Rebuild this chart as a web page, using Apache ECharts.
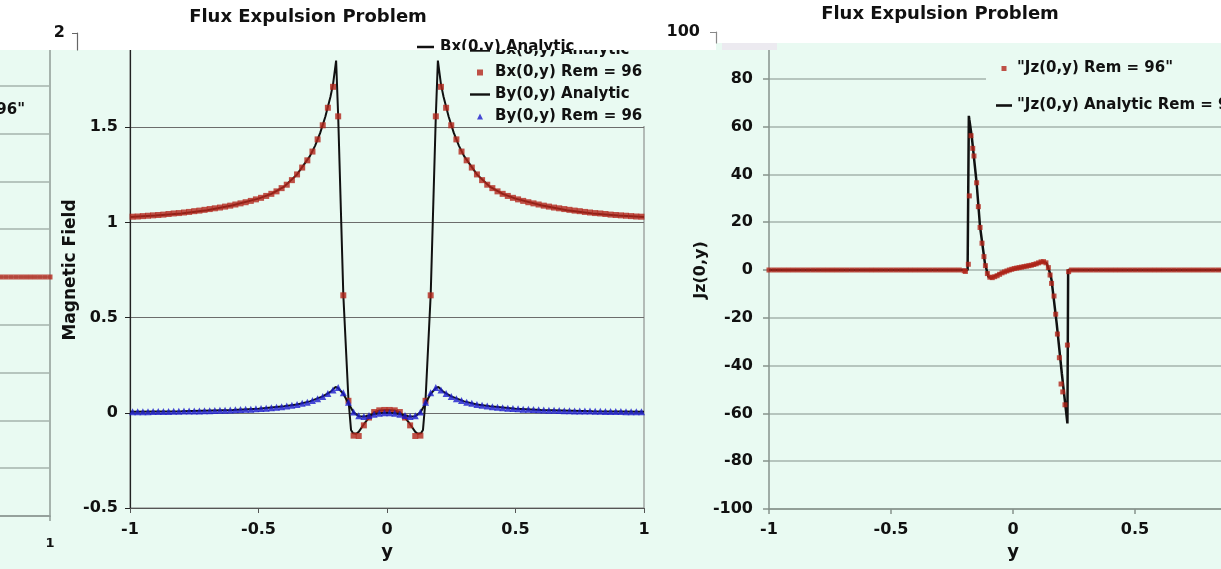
<!DOCTYPE html>
<html><head><meta charset="utf-8">
<script src="https://cdn.jsdelivr.net/npm/echarts@6/dist/echarts.min.js"></script>
<style>html,body{margin:0;padding:0;background:#fff}#c{width:1221px;height:569px}</style>
</head><body><div id="c"></div>
<script>
const titleText = 'Flux Expulsion Problem';
const bxAnaName = 'Bx(0,y) Analytic';
const bxRemName = 'Bx(0,y) Rem = 96';
const byAnaName = 'By(0,y) Analytic';
const byRemName = 'By(0,y) Rem = 96';
const jzRemName = '"Jz(0,y) Rem = 96"';
const jzAnaName = '"Jz(0,y) Analytic Rem = 96"';

// measured sample positions (left chart)
const remY = [-0.99,-0.97,-0.95,-0.93,-0.91,-0.89,-0.87,-0.85,-0.83,-0.81,
 -0.79,-0.77,-0.75,-0.73,-0.71,-0.69,-0.67,-0.65,-0.63,-0.61,
 -0.59,-0.57,-0.55,-0.53,-0.51,-0.49,-0.47,-0.45,-0.43,-0.41,
 -0.39,-0.37,-0.35,-0.33,-0.31,-0.29,-0.27,-0.25,-0.23,-0.21,
 -0.19,-0.17,-0.15,-0.13,-0.11,-0.09,-0.07,-0.05,-0.03,-0.01,
 0.01,0.03,0.05,0.07,0.09,0.11,0.13,0.15,0.17,0.19,
 0.21,0.23,0.25,0.27,0.29,0.31,0.33,0.35,0.37,0.39,
 0.41,0.43,0.45,0.47,0.49,0.51,0.53,0.55,0.57,0.59,
 0.61,0.63,0.65,0.67,0.69,0.71,0.73,0.75,0.77,0.79,
 0.81,0.83,0.85,0.87,0.89,0.91,0.93,0.95,0.97,0.99];
const bxRem = [1.030,1.031,1.033,1.035,1.037,1.039,1.041,1.044,1.047,1.049,
 1.052,1.055,1.059,1.062,1.066,1.070,1.074,1.078,1.083,1.088,
 1.094,1.100,1.106,1.113,1.121,1.129,1.139,1.150,1.163,1.180,
 1.198,1.222,1.252,1.288,1.326,1.372,1.436,1.510,1.602,1.712,
 1.557,0.617,0.063,-0.120,-0.122,-0.066,-0.025,0.004,0.013,0.015,
 0.015,0.013,0.004,-0.025,-0.066,-0.122,-0.120,0.063,0.617,1.557,
 1.712,1.602,1.510,1.436,1.372,1.326,1.288,1.252,1.222,1.198,
 1.180,1.163,1.150,1.139,1.129,1.121,1.113,1.106,1.100,1.094,
 1.088,1.083,1.078,1.074,1.070,1.066,1.062,1.059,1.055,1.052,
 1.049,1.047,1.044,1.041,1.039,1.037,1.035,1.033,1.031,1.030];
const byRem = [0.006,0.006,0.006,0.006,0.007,0.007,0.007,0.007,0.008,0.008,
 0.009,0.009,0.010,0.010,0.011,0.011,0.012,0.013,0.014,0.015,
 0.016,0.017,0.018,0.019,0.021,0.022,0.024,0.027,0.029,0.032,
 0.036,0.039,0.044,0.050,0.056,0.064,0.074,0.086,0.101,0.120,
 0.133,0.105,0.055,0.004,-0.016,-0.019,-0.014,-0.007,-0.002,0.000,
 0.000,-0.002,-0.007,-0.014,-0.019,-0.016,0.004,0.055,0.105,0.133,
 0.120,0.101,0.086,0.074,0.064,0.056,0.050,0.044,0.039,0.036,
 0.032,0.029,0.027,0.024,0.022,0.021,0.019,0.018,0.017,0.016,
 0.015,0.014,0.013,0.012,0.011,0.011,0.010,0.010,0.009,0.009,
 0.008,0.008,0.007,0.007,0.007,0.007,0.006,0.006,0.006,0.006];

const bxAnaY = [-1,-0.9,-0.8,-0.7,-0.6,-0.5,-0.45,-0.4,-0.35,-0.3,-0.28,-0.26,-0.24,-0.22,-0.21,-0.198,-0.19,-0.17,-0.15,-0.14,-0.132,-0.12,-0.11,-0.09,-0.07,-0.05,-0.03,0,
 0.03,0.05,0.07,0.09,0.11,0.12,0.132,0.14,0.15,0.17,0.19,0.198,0.21,0.22,0.24,0.26,0.28,0.3,0.35,0.4,0.45,0.5,0.6,0.7,0.8,0.9,1];
const bxAnaV = [1.029,1.036,1.047,1.064,1.090,1.125,1.150,1.188,1.252,1.348,1.402,1.470,1.555,1.660,1.725,1.850,1.560,0.620,0.070,-0.090,-0.108,-0.110,-0.100,-0.060,-0.025,0.003,0.012,0.015,
 0.012,0.003,-0.025,-0.060,-0.100,-0.110,-0.108,-0.090,0.070,0.620,1.560,1.850,1.725,1.660,1.555,1.470,1.402,1.348,1.252,1.188,1.150,1.125,1.090,1.064,1.047,1.036,1.029];
const byAnaY = [-1,-0.8,-0.6,-0.5,-0.4,-0.35,-0.3,-0.25,-0.22,-0.2,-0.19,-0.17,-0.15,-0.13,-0.11,-0.09,-0.07,-0.05,-0.03,0,
 0.03,0.05,0.07,0.09,0.11,0.13,0.15,0.17,0.19,0.2,0.22,0.25,0.3,0.35,0.4,0.5,0.6,0.8,1];
const byAnaV = [0.005,0.0085,0.015,0.0215,0.034,0.044,0.06,0.086,0.11,0.136,0.13,0.1,0.05,0.002,-0.018,-0.02,-0.014,-0.006,-0.002,0,
 -0.002,-0.006,-0.014,-0.02,-0.018,0.002,0.05,0.1,0.13,0.136,0.11,0.086,0.06,0.044,0.034,0.0215,0.015,0.0085,0.005];

// Jz chart
const jzRemY = [-1.00,-0.98,-0.96,-0.94,-0.92,-0.90,-0.88,-0.86,-0.84,-0.82,-0.80,-0.78,-0.76,-0.74,-0.72,-0.70,-0.68,-0.66,-0.64,-0.62,
 -0.60,-0.58,-0.56,-0.54,-0.52,-0.50,-0.48,-0.46,-0.44,-0.42,-0.40,-0.38,-0.36,-0.34,-0.32,-0.30,-0.28,-0.26,-0.24,-0.22,-0.20,
 -0.195,-0.183,-0.179,-0.172,-0.165,-0.160,-0.149,-0.142,-0.135,-0.127,-0.119,-0.113,
 -0.105,-0.095,-0.085,-0.075,-0.065,-0.055,-0.045,-0.035,-0.025,-0.015,-0.005,0.005,0.015,0.025,0.035,0.045,0.055,0.065,0.075,0.085,0.095,0.105,0.115,0.125,0.135,
 0.145,0.152,0.158,0.168,0.175,0.182,0.190,0.197,0.204,0.213,0.223,0.228,
 0.24,0.26,0.28,0.30,0.32,0.34,0.36,0.38,0.40,0.42,0.44,0.46,0.48,0.50,0.52,0.54,0.56,0.58,0.60,0.62,
 0.64,0.66,0.68,0.70,0.72,0.74,0.76,0.78,0.80,0.82,0.84,0.86,0.88,0.90,0.92,0.94,0.96,0.98,1.00];
const jzRemV = [0,0,0,0,0,0,0,0,0,0,0,0,0,0,0,0,0,0,0,0,
 0,0,0,0,0,0,0,0,0,0,0,0,0,0,0,0,0,0,0,0,-0.3,
 -0.6,2.4,31.0,56.2,50.9,47.7,36.5,26.5,17.8,11.2,5.6,1.8,
 -1.5,-3.0,-3.2,-2.8,-2.4,-1.8,-1.2,-0.8,-0.4,0.0,0.3,0.6,0.8,1.0,1.2,1.4,1.6,1.8,2.0,2.3,2.6,3.0,3.4,3.5,3.0,
 1.0,-2.1,-5.6,-10.9,-18.5,-26.8,-36.7,-47.7,-51.0,-56.4,-31.4,-0.7,
 0,0,0,0,0,0,0,0,0,0,0,0,0,0,0,0,0,0,0,0,
 0,0,0,0,0,0,0,0,0,0,0,0,0,0,0,0,0,0,0];
const jzAnaY = [-1,-0.186,-0.181,-0.179,-0.169,-0.149,-0.135,-0.115,-0.101,-0.09,-0.053,0.015,0.083,0.124,0.138,0.152,0.158,0.179,0.2,0.223,0.226,1];
const jzAnaV = [0,0,64.5,63,55.8,36.3,18.1,2.8,-2.8,-3.4,-1.4,0.7,2.1,3.5,2.8,-1.4,-4.2,-22.3,-43.2,-64.2,0,0];

const zip = (xs, vs) => xs.map((x, i) => [x, vs[i]]);
const FONT = '"DejaVu Sans", Verdana, sans-serif';
const MINT = '#e9faf2';
const INK = '#111';
const RED = '#b3261a';
const BLUE = '#1c1ccc';
const ICON_LINE = 'path://M0 0H20V2.4H0Z';
const ICON_LINE_R = 'path://M0 0H16V2.6H0Z';
const ICON_SQ = 'path://M0 0H6V6H0Z';
const ICON_TRI = 'path://M3 0L6 6H0Z';

const chart = echarts.init(document.getElementById('c'), null, {renderer: 'canvas'});
const lbl = (size, extra) => Object.assign({fontFamily: FONT, fontWeight: 'bold', fontSize: size, color: INK}, extra || {});

const option = {
  backgroundColor: MINT,
  animation: false,
  grid: [
    {left: 130, top: 32, width: 514, height: 476, show: true, borderColor: '#7c7c7c', borderWidth: 1, backgroundColor: 'transparent', outerBoundsMode: 'none', containLabel: false},
    {left: 769, top: 31, width: 488, height: 478, show: false, outerBoundsMode: 'none', containLabel: false},
    {left: 77, top: 33, width: 513, height: 17, show: false, outerBoundsMode: 'none', containLabel: false},
    {left: 716, top: 32, width: 490, height: 11, show: false, outerBoundsMode: 'none', containLabel: false},
    {left: -438, top: 38, width: 488, height: 478, show: true, borderColor: '#909c96', borderWidth: 1.5, backgroundColor: 'transparent', outerBoundsMode: 'none', containLabel: false}
  ],
  xAxis: [
    {gridIndex: 0, type: 'value', min: -1, max: 1, interval: 0.5,
     name: 'y', nameLocation: 'middle', nameGap: 33, nameTextStyle: lbl(18),
     axisLine: {show: true, onZero: false, lineStyle: {color: '#555', width: 1.2}},
     axisTick: {show: true, length: 5, lineStyle: {color: '#555'}},
     axisLabel: lbl(16, {margin: 14}), splitLine: {show: false}},
    {gridIndex: 1, type: 'value', min: -1, max: 1, interval: 0.5,
     name: 'y', nameLocation: 'middle', nameGap: 33, nameTextStyle: lbl(18),
     axisLine: {show: true, onZero: false, lineStyle: {color: '#86928c', width: 1.5}},
     axisTick: {show: true, length: 5, lineStyle: {color: '#86928c', width: 1.5}},
     axisLabel: lbl(16, {margin: 13}), splitLine: {show: false}},
    {gridIndex: 2, type: 'value', min: 0, max: 1, show: false},
    {gridIndex: 3, type: 'value', min: 0, max: 1, show: false},
    {gridIndex: 4, type: 'value', min: -1, max: 1, interval: 0.5,
     axisLine: {show: true, onZero: false, lineStyle: {color: '#909c96', width: 1.5}},
     axisTick: {show: true, length: 5, lineStyle: {color: '#909c96', width: 1.5}},
     axisLabel: lbl(13, {margin: 21, formatter: v => (v === 1 ? '1' : '')}), splitLine: {show: false}}
  ],
  yAxis: [
    {gridIndex: 0, type: 'value', min: -0.5, max: 2, interval: 0.5,
     name: 'Magnetic Field', nameLocation: 'middle', nameGap: 50, nameTextStyle: lbl(17),
     axisLine: {show: true, onZero: false, lineStyle: {color: '#222', width: 1.2}},
     axisTick: {show: true, length: 5, lineStyle: {color: '#222'}},
     axisLabel: lbl(16, {margin: 12}),
     splitLine: {show: true, lineStyle: {color: '#6c6c6c', width: 1.2}}},
    {gridIndex: 1, type: 'value', min: -100, max: 100, interval: 20,
     name: 'Jz(0,y)', nameLocation: 'middle', nameGap: 47, nameTextStyle: lbl(16),
     axisLine: {show: true, onZero: false, lineStyle: {color: '#86928c', width: 1.5}},
     axisTick: {show: true, length: 6, lineStyle: {color: '#86928c', width: 1.5}},
     axisLabel: lbl(16, {margin: 16}),
     splitLine: {show: true, lineStyle: {color: '#a5b3ac', width: 1.6}}},
    {gridIndex: 2, type: 'value', min: 1.9, max: 2, interval: 0.1, z: 60,
     axisLine: {show: true, onZero: false, lineStyle: {color: '#666', width: 1.2}},
     axisTick: {show: true, length: 5, customValues: [2], lineStyle: {color: '#666'}},
     axisLabel: lbl(16, {margin: 12, formatter: v => (v >= 1.99 ? '2' : '')}),
     splitLine: {show: true, showMinLine: false, lineStyle: {color: '#8a8a8a', width: 1.2}}},
    {gridIndex: 3, type: 'value', min: 95, max: 100, interval: 5, z: 60,
     axisLine: {show: true, onZero: false, lineStyle: {color: '#888', width: 1.2}},
     axisTick: {show: true, length: 6, customValues: [100], lineStyle: {color: '#888'}},
     axisLabel: lbl(16, {margin: 16, formatter: v => (v >= 99.9 ? '100' : '')}),
     splitLine: {show: true, showMinLine: false, lineStyle: {color: '#999', width: 1.2}}},
    {gridIndex: 4, type: 'value', min: -100, max: 100, interval: 20,
     axisLine: {show: false, onZero: false}, axisTick: {show: false}, axisLabel: {show: false},
     splitLine: {show: true, lineStyle: {color: '#a5b3ac', width: 1.6}}}
  ],
  legend: [
    {data: [{name: bxAnaName, icon: ICON_LINE}, {name: bxRemName, icon: ICON_SQ}, {name: byAnaName, icon: ICON_LINE}, {name: byRemName, icon: ICON_TRI}],
     orient: 'vertical', left: 464, top: 39, padding: [4, 14, 2, 6], itemGap: 7,
     itemWidth: 20, itemHeight: 6, symbolKeepAspect: true, selectedMode: false, backgroundColor: MINT,
     textStyle: lbl(15, {lineHeight: 14})},
    {data: [{name: jzRemName, icon: ICON_SQ}, {name: jzAnaName, icon: ICON_LINE_R}],
     orient: 'vertical', left: 986, top: 53, padding: [8, 0, 8, 10], itemGap: 22,
     itemWidth: 16, itemHeight: 5, symbolKeepAspect: true, selectedMode: false, backgroundColor: MINT,
     textStyle: lbl(15, {lineHeight: 14})}
  ],
  series: [
    {name: bxAnaName, type: 'line', xAxisIndex: 0, yAxisIndex: 0, data: zip(bxAnaY, bxAnaV),
     symbol: 'none', showSymbol: false, lineStyle: {color: INK, width: 2}, itemStyle: {color: INK}, z: 3},
    {name: bxRemName, type: 'scatter', xAxisIndex: 0, yAxisIndex: 0, data: zip(remY, bxRem),
     symbol: 'rect', symbolSize: 6, itemStyle: {color: RED}, z: 4},
    {name: byAnaName, type: 'line', xAxisIndex: 0, yAxisIndex: 0, data: zip(byAnaY, byAnaV),
     symbol: 'none', showSymbol: false, lineStyle: {color: INK, width: 2}, itemStyle: {color: INK}, z: 5},
    {name: byRemName, type: 'scatter', xAxisIndex: 0, yAxisIndex: 0, data: zip(remY, byRem),
     symbol: 'triangle', symbolSize: 7, itemStyle: {color: BLUE}, z: 6},
    {name: jzAnaName, type: 'line', xAxisIndex: 1, yAxisIndex: 1, data: zip(jzAnaY, jzAnaV),
     symbol: 'none', showSymbol: false, lineStyle: {color: INK, width: 2.5}, itemStyle: {color: INK}, z: 3},
    {name: jzRemName, type: 'scatter', xAxisIndex: 1, yAxisIndex: 1, data: zip(jzRemY, jzRemV),
     symbol: 'rect', symbolSize: 5, itemStyle: {color: RED}, z: 4},
    {name: 'fragmentJz', type: 'scatter', xAxisIndex: 4, yAxisIndex: 4, data: zip(jzRemY, jzRemV),
     symbol: 'rect', symbolSize: 5, itemStyle: {color: RED}, z: 4},
    {name: 'bgLegend', type: 'custom', xAxisIndex: 2, yAxisIndex: 2, clip: true, z: 60,
     data: [[0.5, 1.95]],
     renderItem: function () {
       return {type: 'group', children: [
         {type: 'line', shape: {x1: 417, y1: 47, x2: 434, y2: 47}, style: {stroke: INK, lineWidth: 2.5}},
         {type: 'text', x: 440, y: 47, style: {text: bxAnaName, font: 'bold 15px ' + FONT, fill: INK, textAlign: 'left', verticalAlign: 'middle', textVerticalAlign: 'middle'}}
       ]};
     }}
  ],
  graphic: {elements: [
    {type: 'rect', shape: {x: 0, y: 0, width: 716, height: 50}, style: {fill: '#fff'}, z: 50, silent: true},
    {type: 'rect', shape: {x: 716, y: 0, width: 505, height: 43}, style: {fill: '#fff'}, z: 50, silent: true},
    {type: 'rect', shape: {x: 722, y: 43, width: 55, height: 7}, style: {fill: '#eceaf0'}, z: 50, silent: true},
    {type: 'text', x: 308, y: 17, style: {text: titleText, font: 'bold 18px ' + FONT, fill: INK, textAlign: 'center', verticalAlign: 'middle', textVerticalAlign: 'middle'}, z: 70},
    {type: 'text', x: 940, y: 14, style: {text: titleText, font: 'bold 18px ' + FONT, fill: INK, textAlign: 'center', verticalAlign: 'middle', textVerticalAlign: 'middle'}, z: 70},
    {type: 'text', x: 25, y: 110, style: {text: jzRemName, font: 'bold 15px ' + FONT, fill: INK, textAlign: 'right', verticalAlign: 'middle', textVerticalAlign: 'middle'}, z: 10}
  ]}
};
chart.setOption(option);
</script>
</body></html>
